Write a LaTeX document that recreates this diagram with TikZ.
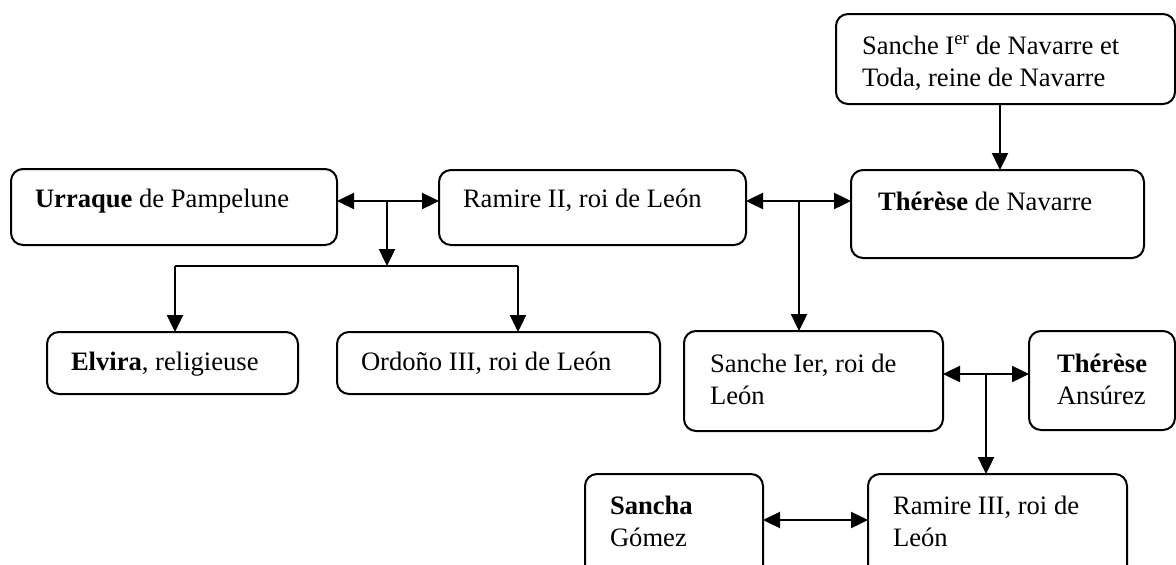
\documentclass[tikz,border=0pt]{standalone}
\usepackage{fontspec}
\setmainfont{Liberation Serif}
\usetikzlibrary{arrows.meta,fit}
\newcommand\tstrut{\rule{0pt}{20pt}}
\begin{document}
\begin{tikzpicture}[x=1pt,y=-1pt,
  box/.style={draw, line width=2pt, rounded corners=12pt, inner sep=0pt, outer sep=0pt},
  txt/.style={anchor=north west, inner sep=0pt, outer sep=0pt, align=left, font=\fontsize{26.6}{32.5}\selectfont},
  conn/.style={line width=2.4pt},
  arr/.style={conn, -{Triangle[length=17pt,width=16pt]}},
  dblarr/.style={conn, {Triangle[length=17pt,width=16pt]}-{Triangle[length=17pt,width=16pt]}}]
\useasboundingbox (0,0) rectangle (1176,565);
% boxes
\node[box, fit={(836,14) (1175,104)}] (sancheN) {};
\node[box, fit={(11,169) (337,245)}] (urraque) {};
\node[box, fit={(439,170) (746,245)}] (ramire2) {};
\node[box, fit={(851,170) (1144,258)}] (thereseN) {};
\node[box, fit={(47,332) (298,394)}] (elvira) {};
\node[box, fit={(337,332) (660,394)}] (ordono) {};
\node[box, fit={(684,331) (943,431)}] (sanche1) {};
\node[box, fit={(1029,331) (1175,430)}] (therA) {};
\node[box, fit={(585,474) (763,590)}] (sancha) {};
\node[box, fit={(868,474) (1127,590)}] (ramire3) {};
% texts
\node[txt] (tSancheN) at (862,34) {\tstrut Sanche I\textsuperscript{er} de Navarre et\\Toda, reine de Navarre};
\node[txt] (tUrraque) at (35,187) {\tstrut\textbf{Urraque} de Pampelune};
\node[txt] (tRamire2) at (463,187) {\tstrut Ramire II, roi de León};
\node[txt] (tThereseN) at (878,190) {\tstrut\textbf{Thérèse} de Navarre};
\node[txt] (tElvira) at (71,350) {\tstrut\textbf{Elvira}, religieuse};
\node[txt] (tOrdono) at (361,350) {\tstrut Ordoño III, roi de León};
\node[txt] (tSanche1) at (710,352) {\tstrut Sanche Ier, roi de\\León};
\node[txt] (tTherA) at (1057,352) {\tstrut\textbf{Thérèse}\\Ansúrez};
\node[txt] (tSancha) at (610,494) {\tstrut\textbf{Sancha}\\Gómez};
\node[txt] (tRamire3) at (893,494) {\tstrut Ramire III, roi de\\León};
% connectors
\coordinate (j0) at (1000,104);
\draw[arr] (sancheN.south -| j0) -- (thereseN.north -| j0);
\coordinate (j1) at (387,201);
\coordinate (k1) at (387,266);
\coordinate (k1l) at (175,266);
\coordinate (k1r) at (518,266);
\draw[dblarr] (urraque.east |- j1) -- (ramire2.west |- j1);
\draw[arr] (j1) -- (k1);
\draw[conn] (k1l) -- (k1r);
\draw[arr] (k1l) -- (elvira.north -| k1l);
\draw[arr] (k1r) -- (ordono.north -| k1r);
\coordinate (j2) at (799,201);
\draw[dblarr] (ramire2.east |- j2) -- (thereseN.west |- j2);
\draw[arr] (j2) -- (sanche1.north -| j2);
\coordinate (j3) at (986,374);
\draw[dblarr] (sanche1.east |- j3) -- (therA.west |- j3);
\draw[arr] (j3) -- (ramire3.north -| j3);
\coordinate (j4) at (800,520);
\draw[dblarr] (sancha.east |- j4) -- (ramire3.west |- j4);
\end{tikzpicture}
\end{document}
